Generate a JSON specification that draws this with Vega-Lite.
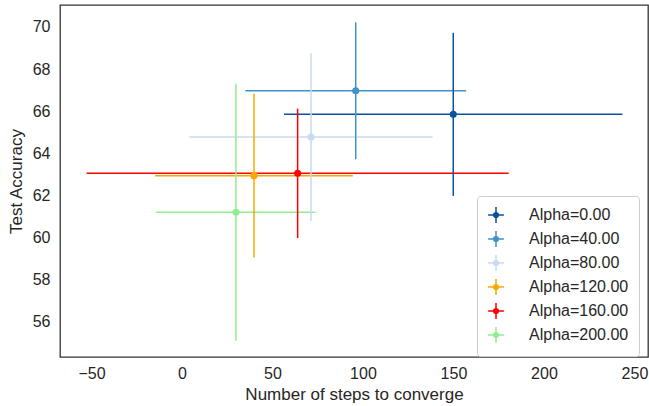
{
  "$schema": "https://vega.github.io/schema/vega-lite/v6.json",
  "width": 588,
  "height": 352,
  "autosize": {"type": "none"},
  "padding": {"left": 60, "top": 5, "right": 1, "bottom": 49},
  "config": {
    "font": "Liberation Sans",
    "view": {"stroke": "#333333", "strokeWidth": 1.3},
    "axis": {"grid": false, "domain": false, "ticks": false, "labelFontSize": 16, "titleFontSize": 17, "labelColor": "#262626", "titleColor": "#262626", "titleFontWeight": "normal"}
  },
  "data": {
    "values": [
      {"series": "Alpha=0.00", "steps": 149.9, "acc": 65.85, "xerr": 93.5, "yerr": 3.87},
      {"series": "Alpha=40.00", "steps": 96.0, "acc": 66.97, "xerr": 61.0, "yerr": 3.25},
      {"series": "Alpha=80.00", "steps": 71.3, "acc": 64.77, "xerr": 67.2, "yerr": 3.98},
      {"series": "Alpha=120.00", "steps": 39.8, "acc": 62.94, "xerr": 54.6, "yerr": 3.89},
      {"series": "Alpha=160.00", "steps": 63.9, "acc": 63.05, "xerr": 116.6, "yerr": 3.07},
      {"series": "Alpha=200.00", "steps": 29.8, "acc": 61.2, "xerr": 44.1, "yerr": 6.1}
    ]
  },
  "encoding": {
    "color": {
      "field": "series", "type": "nominal",
      "scale": {
        "domain": ["Alpha=0.00", "Alpha=40.00", "Alpha=80.00", "Alpha=120.00", "Alpha=160.00", "Alpha=200.00"],
        "range": ["#08519c", "#4292c6", "#c6dbef", "#ffa500", "#ff0000", "#90ee90"]
      },
      "legend": {
        "title": null,
        "orient": "none",
        "legendX": 417,
        "legendY": 191,
        "labelFontSize": 16,
        "labelColor": "#262626",
        "symbolType": "M-1,0H1M0,-1V1M0.3,0A0.3,0.3,0,1,1,-0.3,0A0.3,0.3,0,1,1,0.3,0Z",
        "symbolSize": 250,
        "symbolStrokeWidth": 1.5,
        "rowPadding": 2,
        "labelOffset": 24,
        "padding": 10,
        "strokeColor": "#cccccc",
        "fillColor": "white",
        "cornerRadius": 3,
        "encode": {"symbols": {"update": {"fill": {"scale": "color", "field": "value"}, "stroke": {"scale": "color", "field": "value"}, "fillOpacity": {"value": 1}}}}
      }
    }
  },
  "layer": [
    {
      "mark": {"type": "errorbar", "thickness": 1.5},
      "encoding": {
        "x": {"field": "steps", "type": "quantitative", "scale": {"domain": [-67.4, 257.5], "nice": false, "zero": false}, "axis": {"values": [-50, 0, 50, 100, 150, 200, 250], "title": "Number of steps to converge", "labelPadding": 8, "titlePadding": 5}},
        "xError": {"field": "xerr"},
        "y": {"field": "acc", "type": "quantitative"}
      }
    },
    {
      "mark": {"type": "errorbar", "thickness": 1.5},
      "encoding": {
        "y": {"field": "acc", "type": "quantitative", "scale": {"domain": [54.33, 71.04], "nice": false, "zero": false}, "axis": {"values": [56, 58, 60, 62, 64, 66, 68, 70], "title": "Test Accuracy", "labelPadding": 10, "titlePadding": 7}},
        "yError": {"field": "yerr"},
        "x": {"field": "steps", "type": "quantitative"}
      }
    },
    {
      "mark": {"type": "circle", "size": 50, "opacity": 1},
      "encoding": {
        "x": {"field": "steps", "type": "quantitative"},
        "y": {"field": "acc", "type": "quantitative"}
      }
    }
  ]
}
